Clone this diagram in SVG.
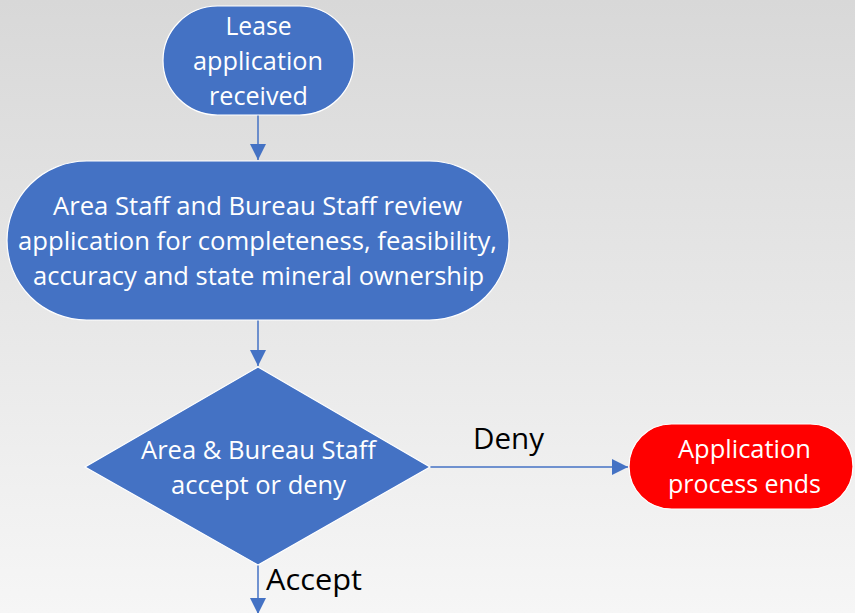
<svg xmlns="http://www.w3.org/2000/svg" width="855" height="613" viewBox="0 0 855 613">
<defs>
<linearGradient id="bg" x1="0" y1="0" x2="0" y2="1">
<stop offset="0" stop-color="#d8d8d8"/>
<stop offset="1" stop-color="#f6f6f6"/>
</linearGradient>
<marker id="arr" markerWidth="16" markerHeight="16" refX="16" refY="8" orient="auto" markerUnits="userSpaceOnUse">
<path d="M0,0 L16,8 L0,16 Z" fill="#4472C4"/>
</marker>
<style>
.node{fill:#4472C4;stroke:#ffffff;stroke-width:1.2}
.end{fill:#FF0000;stroke:#ffffff;stroke-width:1.2}
.t{font-family:"Open Sans","Noto Sans",sans-serif;font-size:25px;fill:#ffffff;text-anchor:middle}
.lbl{font-family:"Open Sans","Noto Sans",sans-serif;font-size:29px;fill:#000000}
.c{fill:none;stroke:#4472C4;stroke-width:1.5}
</style>
</defs>
<rect x="0" y="0" width="855" height="613" fill="url(#bg)"/>
<g id="connectors">
<line class="c" x1="258" y1="115" x2="258" y2="160" marker-end="url(#arr)"/>
<line class="c" x1="258" y1="320" x2="258" y2="366" marker-end="url(#arr)"/>
<line class="c" x1="430" y1="467" x2="628" y2="467" marker-end="url(#arr)"/>
<line class="c" x1="258" y1="565" x2="258" y2="614" marker-end="url(#arr)"/>
<text class="lbl" x="473" y="449" textLength="71" lengthAdjust="spacingAndGlyphs">Deny</text>
<text class="lbl" x="266" y="590" textLength="96" lengthAdjust="spacingAndGlyphs">Accept</text>
</g>
<g id="start">
<rect class="node" x="163" y="6" width="191" height="109" rx="54.5" ry="54.5"/>
<text class="t" x="258.5" y="35" textLength="66" lengthAdjust="spacingAndGlyphs">Lease</text>
<text class="t" x="258" y="70" textLength="130" lengthAdjust="spacingAndGlyphs">application</text>
<text class="t" x="258.5" y="105" textLength="99" lengthAdjust="spacingAndGlyphs">received</text>
</g>
<g id="review">
<rect class="node" x="7" y="161" width="502" height="159" rx="79.5" ry="79.5"/>
<text class="t" x="257.5" y="215" textLength="409" lengthAdjust="spacingAndGlyphs">Area Staff and Bureau Staff review</text>
<text class="t" x="257.5" y="250" textLength="479" lengthAdjust="spacingAndGlyphs">application for completeness, feasibility,</text>
<text class="t" x="258.5" y="285" textLength="451" lengthAdjust="spacingAndGlyphs">accuracy and state mineral ownership</text>
</g>
<g id="decision">
<polygon class="node" points="258,367 430,467 258,565 85,467"/>
<text class="t" x="258.5" y="459" textLength="235" lengthAdjust="spacingAndGlyphs">Area &amp; Bureau Staff</text>
<text class="t" x="258.5" y="494" textLength="175" lengthAdjust="spacingAndGlyphs">accept or deny</text>
</g>
<g id="ends">
<rect class="end" x="629" y="424" width="224" height="85" rx="42.5" ry="42.5"/>
<text class="t" x="744.5" y="458" textLength="133" lengthAdjust="spacingAndGlyphs">Application</text>
<text class="t" x="744.5" y="493" textLength="153" lengthAdjust="spacingAndGlyphs">process ends</text>
</g>
</svg>
